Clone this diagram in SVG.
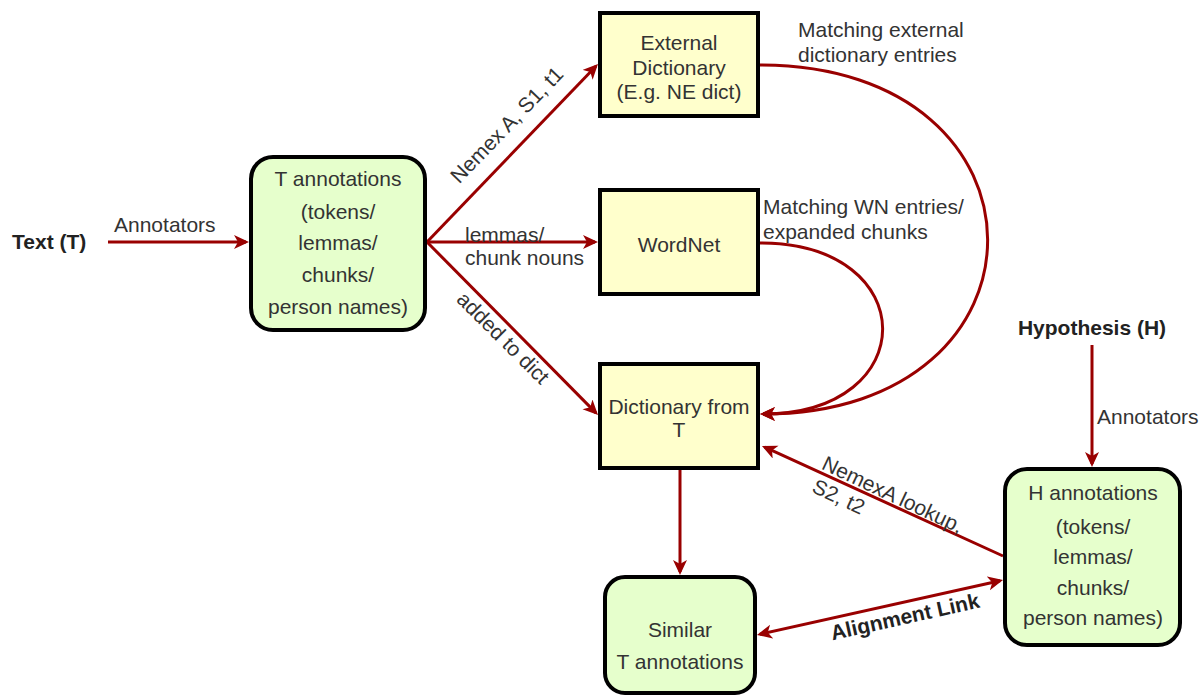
<svg xmlns="http://www.w3.org/2000/svg" width="1200" height="697" viewBox="0 0 1200 697">
  <style>
    .t { font-family: "Liberation Sans", Arial, sans-serif; font-size: 21px; fill: #333333; }
    .b { font-family: "Liberation Sans", Arial, sans-serif; font-size: 21px; font-weight: bold; fill: #222222; }
    .c { text-anchor: middle; }
    .yel { fill: #FFFFCC; stroke: #000000; stroke-width: 4; }
    .grn { fill: #E6FFCC; stroke: #000000; stroke-width: 4; }
    .e { fill: none; stroke: #990000; stroke-width: 3; }
  </style>
  <defs>
    <marker id="ah" markerUnits="userSpaceOnUse" markerWidth="17" markerHeight="16" refX="12" refY="7" orient="auto">
      <path d="M0,0 L15,7 L0,14 L4,7 z" fill="#990000"/>
    </marker>
    <marker id="ahs" markerUnits="userSpaceOnUse" markerWidth="17" markerHeight="16" refX="12" refY="7" orient="auto-start-reverse">
      <path d="M0,0 L15,7 L0,14 L4,7 z" fill="#990000"/>
    </marker>
  </defs>

  <g id="connectors">
    <path class="e" d="M108,242 L246,242" marker-end="url(#ah)"/>
    <path class="e" d="M427,242 L595.9,66.2" marker-end="url(#ah)"/>
    <path class="e" d="M427,242 L595,242" marker-end="url(#ah)"/>
    <path class="e" d="M427,242 L595.9,412.9" marker-end="url(#ah)"/>
    <path class="e" d="M760,65 C1063,65 1063,414 763,414" marker-end="url(#ah)"/>
    <path class="e" d="M760,243 C923,243 923,414 763,414" marker-end="url(#ah)"/>
    <path class="e" d="M1003,556 L764.7,447.2" marker-end="url(#ah)"/>
    <path class="e" d="M680,470 L680,572" marker-end="url(#ah)"/>
    <path class="e" d="M759.9,634.3 L1000.1,580.7" marker-start="url(#ahs)" marker-end="url(#ah)"/>
    <path class="e" d="M1092,345 L1092,464" marker-end="url(#ah)"/>
  </g>

  <g id="edge-labels">
    <text class="t" x="114" y="232">Annotators</text>
    <text class="t c" transform="translate(507,125) rotate(-46)" y="7">Nemex A, S1, t1</text>
    <text class="t" x="465" y="242">lemmas/</text>
    <text class="t" x="465" y="265">chunk nouns</text>
    <text class="t c" transform="translate(503,338) rotate(45)" y="7">added to dict</text>
    <text class="t" x="798" y="37">Matching external</text>
    <text class="t" x="798" y="62">dictionary entries</text>
    <text class="t" x="763" y="214">Matching WN entries/</text>
    <text class="t" x="763" y="239">expanded chunks</text>
    <g transform="translate(827,455) rotate(25.2)">
      <text class="t" x="0" y="15">NemexA lookup,</text>
      <text class="t" x="1" y="40">S2, t2</text>
    </g>
    <text class="b c" transform="translate(905,617) rotate(-12.6)" y="7">Alignment Link</text>
    <text class="t" x="1097" y="424">Annotators</text>
  </g>

  <g id="text-t">
    <text class="b" x="12" y="249">Text (T)</text>
  </g>
  <g id="hypothesis-h">
    <text class="b c" x="1092" y="335">Hypothesis (H)</text>
  </g>

  <g id="t-annotations">
    <rect class="grn" x="251" y="157" width="174" height="173" rx="22" ry="22"/>
    <text class="t c" x="338" y="186">T annotations</text>
    <text class="t c" x="338" y="219">(tokens/</text>
    <text class="t c" x="338" y="250">lemmas/</text>
    <text class="t c" x="338" y="282">chunks/</text>
    <text class="t c" x="338" y="314">person names)</text>
  </g>

  <g id="external-dictionary">
    <rect class="yel" x="600" y="13" width="158" height="103"/>
    <text class="t c" x="679" y="50">External</text>
    <text class="t c" x="679" y="75">Dictionary</text>
    <text class="t c" x="679" y="99">(E.g. NE dict)</text>
  </g>

  <g id="wordnet">
    <rect class="yel" x="600" y="190" width="158" height="104"/>
    <text class="t c" x="679" y="252">WordNet</text>
  </g>

  <g id="dictionary-from-t">
    <rect class="yel" x="600" y="364" width="158" height="104"/>
    <text class="t c" x="679" y="414">Dictionary from</text>
    <text class="t c" x="679" y="437">T</text>
  </g>

  <g id="similar-t-annotations">
    <rect class="grn" x="605" y="577" width="150" height="116" rx="20" ry="20"/>
    <text class="t c" x="680" y="637">Similar</text>
    <text class="t c" x="680" y="669">T annotations</text>
  </g>

  <g id="h-annotations">
    <rect class="grn" x="1005" y="469" width="175" height="176" rx="22" ry="22"/>
    <text class="t c" x="1093" y="500">H annotations</text>
    <text class="t c" x="1093" y="534">(tokens/</text>
    <text class="t c" x="1093" y="564">lemmas/</text>
    <text class="t c" x="1093" y="595">chunks/</text>
    <text class="t c" x="1093" y="625">person names)</text>
  </g>
</svg>
